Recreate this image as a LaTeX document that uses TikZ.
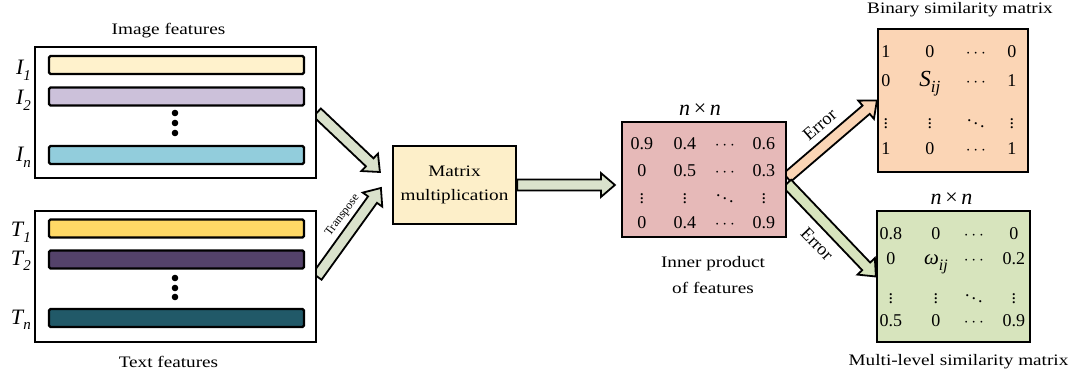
\documentclass[tikz,border=0pt]{standalone}
\usepackage{fontspec}
\setmainfont{Liberation Serif}[FakeStretch=1.2]
\newfontfamily\plainserif{Liberation Serif}
\usepackage{tikz}
\usetikzlibrary{positioning,calc,backgrounds}
\definecolor{imgyellow}{RGB}{255,242,204}
\definecolor{imglilac}{RGB}{204,193,218}
\definecolor{imgcyan}{RGB}{146,205,220}
\definecolor{txtgold}{RGB}{255,217,102}
\definecolor{txtplum}{RGB}{84,66,106}
\definecolor{txtteal}{RGB}{33,89,104}
\definecolor{multfill}{RGB}{253,239,201}
\definecolor{innerfill}{RGB}{230,185,184}
\definecolor{binfill}{RGB}{251,213,181}
\definecolor{levelfill}{RGB}{215,228,189}
\definecolor{sage}{RGB}{218,226,204}
\newcommand{\featlab}[2]{\textit{#1}\kern-1pt\raisebox{-6pt}{\fontsize{15}{15}\selectfont\textit{#2}}}
\newcommand{\nbyn}{\textit{n}\,×\,\textit{n}}
\newcommand{\vd}{$\smash{\vdots}$}
\newcommand{\dd}{$\smash{\ddots}$}
\newcommand{\cd}{$\cdots$}
\tikzset{
  featbox/.style={draw, line width=2.2pt, fill=white, minimum width=281pt, minimum height=131pt},
  featbar/.style={draw, line width=2.2pt, rounded corners=1.5pt, minimum width=255pt, minimum height=18pt},
  matbox/.style={draw, line width=2.2pt},
  entry/.style={font=\plainserif\fontsize{18}{18}\selectfont, inner sep=0pt, anchor=base},
  featlabel/.style={font=\plainserif\fontsize{22}{22}\selectfont, inner sep=0pt, anchor=base east},
  caption/.style={font=\fontsize{16}{26}\selectfont, align=center, inner sep=0pt},
  sizelabel/.style={font=\plainserif\fontsize{22}{22}\selectfont, inner sep=0pt},
  arrowlabel/.style={font=\plainserif\fontsize{18}{18}\selectfont, inner sep=0pt},
  fatarrow/.style={draw=black, line width=1.8pt, fill=#1, line join=miter,
    to path={let \p1=(\tikztostart), \p2=(\tikztotarget),
      \n1={atan2(\y2-\y1,\x2-\x1)}, \n2={veclen(\x2-\x1,\y2-\y1)} in
      ([shift={(\p1)},rotate=\n1]0pt,5.5pt) -- ([shift={(\p1)},rotate=\n1]\n2-14pt,5.5pt)
      -- ([shift={(\p1)},rotate=\n1]\n2-14pt,12pt) -- (\p2)
      -- ([shift={(\p1)},rotate=\n1]\n2-14pt,-12pt) -- ([shift={(\p1)},rotate=\n1]\n2-14pt,-5.5pt)
      -- ([shift={(\p1)},rotate=\n1]0pt,-5.5pt) -- cycle}}
}
\begin{document}
\begin{tikzpicture}[x=1pt, y=1pt]
\useasboundingbox (0,0) rectangle (1085,378);

% image features
\node[featbox] (imgbox) at (175.5,265.5) {};
\node[caption, above=8pt of imgbox, xshift=-7pt] (imgcap) {Image features};
\node[featbar, fill=imgyellow] (ibar1) at (176.5,313) {};
\node[featbar, fill=imglilac] (ibar2) at (176.5,281.5) {};
\node[featbar, fill=imgcyan] (ibarn) at (176.5,223) {};
\foreach \y in {265,255,245} \fill (175,\y) circle (3.3pt);
\node[featlabel] (ilab1) at (31,303) {\featlab{I}{1}};
\node[featlabel] (ilab2) at (31,273) {\featlab{I}{2}};
\node[featlabel] (ilabn) at (31,216) {\featlab{I}{n}};

% text features
\node[featbox] (txtbox) at (175.5,101.5) {};
\node[caption, below=13pt of txtbox, xshift=-7pt] (txtcap) {Text features};
\node[featbar, fill=txtgold] (tbar1) at (176.5,149.5) {};
\node[featbar, fill=txtplum] (tbar2) at (176.5,118.5) {};
\node[featbar, fill=txtteal] (tbarn) at (176.5,60) {};
\foreach \y in {100,90,81} \fill (175,\y) circle (3.3pt);
\node[featlabel] (tlab1) at (31,141) {\featlab{T}{1}};
\node[featlabel] (tlab2) at (31,113) {\featlab{T}{2}};
\node[featlabel] (tlabn) at (31,54) {\featlab{T}{n}};

% matrix multiplication
\node[matbox, fill=multfill, minimum width=123pt, minimum height=78pt, caption, font=\fontsize{16}{24}\selectfont] (mult) at (454.5,193) {Matrix\\multiplication};

% inner product
\node[matbox, fill=innerfill, minimum width=164pt, minimum height=115pt] (inner) at (704,198.5) {};
\node[sizelabel, above=5pt of inner, xshift=-4pt] (innersize) {\nbyn};
\node[caption, below=18pt of inner, xshift=9pt] (innercap) {Inner product\\of features};
\foreach \x/\t in {21/0.9, 64/0.4, 104/\cd, 143/0.6} \node[entry] at ([shift={(\x pt,-29pt)}]inner.north west) {\t};
\foreach \x/\t in {21/0, 64/0.5, 104/\cd, 143/0.3} \node[entry] at ([shift={(\x pt,-56pt)}]inner.north west) {\t};
\foreach \x/\t in {21/\vd, 64/\vd, 104/\dd, 143/\vd} \node[entry] at ([shift={(\x pt,-83pt)}]inner.north west) {\t};
\foreach \x/\t in {21/0, 64/0.4, 104/\cd, 143/0.9} \node[entry] at ([shift={(\x pt,-108pt)}]inner.north west) {\t};

% binary similarity matrix
\node[matbox, fill=binfill, minimum width=150pt, minimum height=143pt] (binmat) at (953,277.5) {};
\node[caption, above=11pt of binmat, xshift=7pt] (bincap) {Binary similarity matrix};
\foreach \x/\t in {9/1, 53/0, 99/\cd, 135/0} \node[entry] at ([shift={(\x pt,-30pt)}]binmat.north west) {\t};
\foreach \x/\t in {9/0, 53/{\fontsize{23}{23}\selectfont\textit{S}\raisebox{-6pt}{\fontsize{17}{17}\selectfont\textit{ij}}}, 99/\cd, 135/1} \node[entry] at ([shift={(\x pt,-59pt)}]binmat.north west) {\t};
\foreach \x/\t in {9/\vd, 53/\vd, 99/\dd, 135/\vd} \node[entry] at ([shift={(\x pt,-101pt)}]binmat.north west) {\t};
\foreach \x/\t in {9/1, 53/0, 99/\cd, 135/1} \node[entry] at ([shift={(\x pt,-127pt)}]binmat.north west) {\t};

% multi-level similarity matrix
\node[matbox, fill=levelfill, minimum width=153pt, minimum height=131pt] (levelmat) at (953.5,101.5) {};
\node[sizelabel, above=5pt of levelmat, xshift=-2pt] (levelsize) {\nbyn};
\node[caption, below=11pt of levelmat, xshift=5pt] (levelcap) {Multi-level similarity matrix};
\foreach \x/\t in {15/0.8, 60/0, 98/\cd, 138/0} \node[entry] at ([shift={(\x pt,-30pt)}]levelmat.north west) {\t};
\foreach \x/\t in {15/0, 60/{\fontsize{21}{21}\selectfont\textit{ω}\raisebox{-6pt}{\fontsize{16}{16}\selectfont\textit{ij}}}, 98/\cd, 138/0.2} \node[entry] at ([shift={(\x pt,-55pt)}]levelmat.north west) {\t};
\foreach \x/\t in {15/\vd, 60/\vd, 98/\dd, 138/\vd} \node[entry] at ([shift={(\x pt,-94pt)}]levelmat.north west) {\t};
\foreach \x/\t in {15/0.5, 60/0, 98/\cd, 138/0.9} \node[entry] at ([shift={(\x pt,-117pt)}]levelmat.north west) {\t};

% connectors
\coordinate (imgend) at ([shift={(-12pt,13pt)}]mult.west);
\coordinate (txtend) at ([shift={(-11pt,-3pt)}]mult.west);
\coordinate (multend) at ($(mult.east -| inner.west)+(-6pt,0pt)$);
\coordinate (binstart) at ([yshift=2pt]inner.east);
\coordinate (levelstart) at ([yshift=-4pt]inner.east);
\begin{scope}[on background layer]
\draw[fatarrow=sage] (imgbox.east) to (imgend);
\draw[fatarrow=sage] (txtbox.east) to (txtend);
\draw[fatarrow=sage] (mult.east) to (multend);
\draw[fatarrow=binfill] (binstart) to (binmat.west);
\draw[fatarrow=levelfill] (levelstart) to (levelmat.west);
\end{scope}
\node[font=\plainserif\fontsize{12}{12}\selectfont, inner sep=0pt, rotate=53.3] (transp) at ($(txtbox.east)!0.59!(txtend)!15pt!90:(txtend)$) {Transpose};
\node[arrowlabel, rotate=41] (binerr) at ($(binstart)!0.5!(binmat.west)!19pt!90:(binmat.west)$) {Error};
\node[arrowlabel, rotate=-46] (levelerr) at ($(levelstart)!0.5!(levelmat.west)!20pt!-90:(levelmat.west)$) {Error};
\end{tikzpicture}
\end{document}
